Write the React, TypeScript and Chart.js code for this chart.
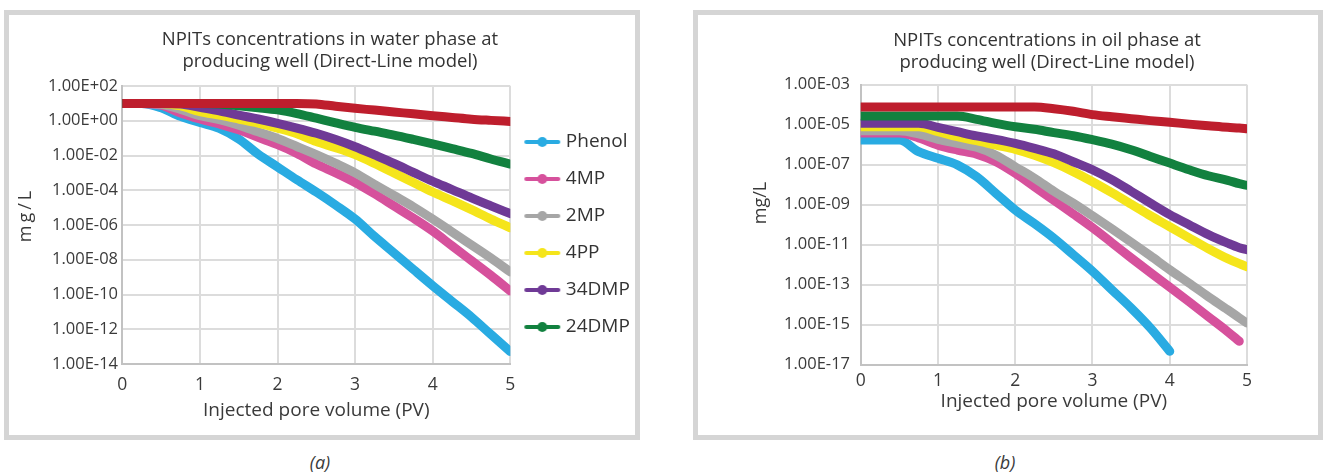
import React, { useEffect, useRef } from 'react';
import { Chart, registerables } from 'chart.js';

Chart.register(...registerables);

const FONT = "'Open Sans', sans-serif";
Chart.defaults.font.family = FONT;

// ---------- data ----------
const seriesNames = ['Phenol', '4MP', '2MP', '4PP', '34DMP', '24DMP', ''];
const seriesColors = ['#29ABE2', '#D6519C', '#A6A6A6', '#F5E51B', '#6F3A96', '#12813F', '#BE1E2D'];

const pvWater = [0, 0.25, 0.5, 0.75, 1, 1.25, 1.5, 1.75, 2, 2.25, 2.5, 2.75, 3, 3.25, 3.5, 3.75, 4, 4.25, 4.5, 4.75, 5];
const phenolWater = [10, 10, 5.6, 1.78, 0.79, 0.36, 0.089, 0.012, 2.2e-3, 4.0e-4, 7.9e-5, 1.4e-5, 2.2e-6, 2.2e-7, 2.5e-8, 2.8e-9, 3.2e-10, 4.0e-11, 5.0e-12, 5.0e-13, 5.2e-14];
const mp4Water = [10, 10, 7.9, 2.8, 1.26, 0.65, 0.3, 0.11, 0.042, 0.0132, 3.2e-3, 1.0e-3, 2.8e-4, 6.3e-5, 1.26e-5, 2.5e-6, 4.5e-7, 6.3e-8, 8.9e-9, 1.26e-9, 1.6e-10];
const mp2Water = [10, 10, 8.9, 4.5, 1.95, 1.15, 0.56, 0.23, 0.095, 0.033, 0.0112, 3.5e-3, 1.0e-3, 2.2e-4, 5.0e-5, 1.12e-5, 2.2e-6, 4.0e-7, 7.1e-8, 1.26e-8, 2.0e-9];
const pp4Water = [10, 10, 10, 7.1, 3.3, 2.1, 1.26, 0.74, 0.38, 0.18, 0.063, 0.028, 0.0112, 3.5e-3, 1.0e-3, 2.8e-4, 7.9e-5, 2.5e-5, 7.6e-6, 2.2e-6, 6.9e-7];
const dmp34Water = [10, 10, 10, 9.3, 5.9, 3.7, 2.1, 1.26, 0.71, 0.38, 0.19, 0.083, 0.032, 0.0107, 3.5e-3, 1.07e-3, 3.3e-4, 1.1e-4, 3.6e-5, 1.26e-5, 4.5e-6];
const dmp24Water = [10, 10, 10, 10, 10, 9.3, 7.2, 5.6, 4.2, 2.6, 1.41, 0.76, 0.42, 0.25, 0.15, 0.085, 0.047, 0.025, 0.0132, 0.0063, 0.0032];
const series7Water = [10, 10, 10, 10, 10, 10, 10, 10, 10, 10, 9.3, 6.8, 5.2, 4.1, 3.2, 2.5, 1.95, 1.55, 1.23, 1.05, 0.91];

const pvOil = [0, 0.25, 0.5, 0.75, 1, 1.25, 1.5, 1.75, 2, 2.25, 2.5, 2.75, 3, 3.25, 3.5, 3.75, 4, 4.25, 4.5, 4.75, 4.9, 5];
const phenolOil = [1.7e-6, 1.7e-6, 1.7e-6, 4.5e-7, 2.1e-7, 9.8e-8, 2.5e-8, 3.7e-9, 5.4e-10, 1.12e-10, 2.1e-11, 3.2e-12, 4.7e-13, 5.6e-14, 6.8e-15, 6.8e-16, 4.7e-17, null, null, null, null, null];
const mp4Oil = [3.8e-6, 3.8e-6, 3.8e-6, 2.2e-6, 9.5e-7, 5.4e-7, 3.4e-7, 1.41e-7, 3.7e-8, 7.9e-9, 1.66e-9, 3.5e-10, 7.1e-11, 1.26e-11, 2.2e-12, 4.0e-13, 7.6e-14, 1.41e-14, 2.5e-15, 4.5e-16, 1.48e-16, null];
const mp2Oil = [5.0e-6, 5.0e-6, 5.0e-6, 3.5e-6, 1.86e-6, 1.17e-6, 7.4e-7, 3.0e-7, 7.9e-8, 2.1e-8, 4.7e-9, 1.2e-9, 2.8e-10, 6.3e-11, 1.35e-11, 2.8e-12, 5.6e-13, 1.2e-13, 2.5e-14, 5.6e-15, 2.2e-15, 1.2e-15];
const pp4Oil = [7.9e-6, 7.9e-6, 7.9e-6, 7.9e-6, 4.5e-6, 2.5e-6, 1.58e-6, 9.5e-7, 5.9e-7, 3.0e-7, 1.26e-7, 4.5e-8, 1.41e-8, 4.0e-9, 1.07e-9, 2.8e-10, 7.9e-11, 2.2e-11, 6.3e-12, 2.0e-12, 1.12e-12, 7.9e-13];
const dmp34Oil = [1.17e-5, 1.17e-5, 1.17e-5, 1.17e-5, 7.4e-6, 4.5e-6, 2.75e-6, 1.86e-6, 1.17e-6, 6.6e-7, 3.5e-7, 1.41e-7, 5.6e-8, 1.78e-8, 4.7e-9, 1.2e-9, 3.2e-10, 1.0e-10, 3.2e-11, 1.2e-11, 7.1e-12, 5.6e-12];
const dmp24Oil = [2.7e-5, 2.7e-5, 2.7e-5, 2.7e-5, 2.7e-5, 2.7e-5, 1.86e-5, 1.17e-5, 7.9e-6, 5.9e-6, 4.0e-6, 2.8e-6, 1.78e-6, 1.07e-6, 5.6e-7, 2.6e-7, 1.2e-7, 5.6e-8, 2.8e-8, 1.66e-8, 1.12e-8, 9.3e-9];
const series7Oil = [7.6e-5, 7.6e-5, 7.6e-5, 7.6e-5, 7.6e-5, 7.6e-5, 7.6e-5, 7.6e-5, 7.6e-5, 7.6e-5, 6.3e-5, 4.7e-5, 3.2e-5, 2.5e-5, 2.0e-5, 1.6e-5, 1.32e-5, 1.07e-5, 8.9e-6, 7.4e-6, 6.8e-6, 6.3e-6];

const waterTickValues = [1e-14, 1e-12, 1e-10, 1e-8, 1e-6, 1e-4, 1e-2, 1e0, 1e2];
const waterTickLabels = ['1.00E-14', '1.00E-12', '1.00E-10', '1.00E-08', '1.00E-06', '1.00E-04', '1.00E-02', '1.00E+00', '1.00E+02'];
const oilTickValues = [1e-17, 1e-15, 1e-13, 1e-11, 1e-9, 1e-7, 1e-5, 1e-3];
const oilTickLabels = ['1.00E-17', '1.00E-15', '1.00E-13', '1.00E-11', '1.00E-09', '1.00E-07', '1.00E-05', '1.00E-03'];
const pvTickValues = [0, 1, 2, 3, 4, 5];
const pvTickLabels = ['0', '1', '2', '3', '4', '5'];

const waterTitle = ['NPITs concentrations in water phase at', 'producing well (Direct-Line model)'];
const oilTitle = ['NPITs concentrations in oil phase at', 'producing well (Direct-Line model)'];
const xTitle = 'Injected pore volume (PV)';
const yTitle = 'mg/L';

// ---------- helpers ----------
const TEXT = '#3a3a3a';
const GRID = '#dcdcdc';
const AXIS = '#c2c2c2';

function legendIcon(color: string) {
  const c = document.createElement('canvas');
  c.width = 40;
  c.height = 12;
  const ctx = c.getContext('2d')!;
  ctx.strokeStyle = color;
  ctx.lineWidth = 4;
  ctx.lineCap = 'round';
  ctx.beginPath();
  ctx.moveTo(4, 6);
  ctx.lineTo(36, 6);
  ctx.stroke();
  ctx.fillStyle = color;
  ctx.beginPath();
  ctx.arc(20, 6, 5, 0, Math.PI * 2);
  ctx.fill();
  return c;
}

const yTitlePlugin = {
  id: 'yTitle',
  afterDraw(chart: any, _args: any, opts: any) {
    const { ctx, chartArea } = chart;
    ctx.save();
    ctx.translate(chartArea.left + opts.dx, (chartArea.top + chartArea.bottom) / 2 + opts.dy);
    ctx.rotate(-Math.PI / 2);
    ctx.font = `${opts.size}px ${FONT}`;
    try { (ctx as any).letterSpacing = `${opts.spacing}px`; } catch (e) { /* ignore */ }
    ctx.fillStyle = opts.color;
    ctx.textAlign = 'center';
    ctx.textBaseline = 'middle';
    ctx.fillText(opts.text, 0, 0);
    ctx.restore();
  },
};

function buildDatasets(xs: number[], ys: (number | null)[][]) {
  return ys.map((arr, i) => ({
    label: seriesNames[i],
    data: xs.map((x, j) => ({ x, y: arr[j] })),
    borderColor: seriesColors[i],
    backgroundColor: seriesColors[i],
    borderWidth: 9,
    pointRadius: 0,
    borderCapStyle: 'round',
    borderJoinStyle: 'round',
    cubicInterpolationMode: 'monotone',
    spanGaps: false,
    order: ys.length - 1 - i,
  }));
}

function axisX(height: number, tickPad: number, titlePadBottom: number) {
  return {
    type: 'linear',
    min: 0,
    max: 5,
    afterBuildTicks: (s: any) => { s.ticks = pvTickValues.map((value) => ({ value })); },
    afterFit: (s: any) => { s.height = height; },
    ticks: {
      autoSkip: false,
      maxRotation: 0,
      padding: tickPad,
      color: TEXT,
      font: { size: 17.5 },
      callback: (v: number) => pvTickLabels[pvTickValues.indexOf(v)],
    },
    grid: { color: GRID, lineWidth: 2, drawTicks: false },
    border: { color: AXIS, width: 2 },
    title: { display: true, text: xTitle, color: TEXT, font: { size: 19 }, padding: { top: 0, bottom: titlePadBottom } },
  };
}

function axisY(min: number, max: number, tv: number[], tl: string[], width: number, tickPad: number) {
  return {
    type: 'logarithmic',
    min,
    max,
    afterBuildTicks: (s: any) => { s.ticks = tv.map((value) => ({ value })); },
    afterFit: (s: any) => { s.width = width; },
    ticks: {
      autoSkip: false,
      padding: tickPad,
      color: TEXT,
      font: { size: 16.5 },
      callback: (v: number) => tl[tv.indexOf(v)],
    },
    grid: { color: GRID, lineWidth: 2, drawTicks: false },
    border: { color: AXIS, width: 2 },
  };
}

function waterConfig(): any {
  return {
    type: 'line',
    data: {
      datasets: buildDatasets(pvWater, [phenolWater, mp4Water, mp2Water, pp4Water, dmp34Water, dmp24Water, series7Water]),
    },
    plugins: [yTitlePlugin],
    options: {
      responsive: false,
      animation: false,
      devicePixelRatio: 1,
      events: [],
      layout: { padding: { left: 15.7, right: 4.7, top: 0, bottom: 0 } },
      scales: {
        x: axisX(71, 11, 13.1),
        y: axisY(1e-14, 1e2, waterTickValues, waterTickLabels, 97.6, 4.3),
      },
      plugins: {
        tooltip: { enabled: false },
        title: {
          display: true,
          text: waterTitle,
          color: '#333',
          font: { size: 18.5, weight: 'normal', lineHeight: '21.5px' },
          padding: { top: 14.25, bottom: 13.75 },
        },
        legend: {
          display: true,
          position: 'right',
          align: 'start',
          fullSize: false,
          maxWidth: 125,
          title: { display: true, text: ' ', font: { size: 10 }, padding: { top: 16.5, bottom: 0 } },
          labels: {
            usePointStyle: true,
            pointStyleWidth: 28,
            boxHeight: 19,
            padding: 18,
            color: '#333',
            font: { size: 19 },
            generateLabels: (chart: any) =>
              chart.data.datasets
                .map((ds: any, i: number) => ({
                  text: ds.label,
                  fillStyle: ds.borderColor,
                  strokeStyle: ds.borderColor,
                  lineWidth: 0,
                  pointStyle: legendIcon(ds.borderColor),
                  hidden: false,
                  datasetIndex: i,
                  fontColor: '#333',
                }))
                .filter((it: any) => it.text !== ''),
          },
        },
        yTitle: { text: yTitle, size: 18, spacing: 3, color: TEXT, dx: -96.3, dy: -10 },
      },
    },
  };
}

function oilConfig(): any {
  return {
    type: 'line',
    data: {
      datasets: buildDatasets(pvOil, [phenolOil, mp4Oil, mp2Oil, pp4Oil, dmp34Oil, dmp24Oil, series7Oil]),
    },
    plugins: [yTitlePlugin],
    options: {
      responsive: false,
      animation: false,
      devicePixelRatio: 1,
      events: [],
      layout: { padding: { left: 74, right: 0, top: 0, bottom: 0 } },
      scales: {
        x: axisX(70.3, 5.6, 21.9),
        y: axisY(1e-17, 1e-3, oilTickValues, oilTickLabels, 89.7, 10.7),
        spacer: {
          type: 'linear',
          position: 'right',
          display: true,
          afterFit: (s: any) => { s.width = 76; },
          grid: { display: false, drawTicks: false },
          ticks: { display: false },
          border: { display: false },
        },
      },
      plugins: {
        tooltip: { enabled: false },
        legend: { display: false },
        title: {
          display: true,
          text: oilTitle,
          color: '#333',
          font: { size: 18.5, weight: 'normal', lineHeight: '21.3px' },
          padding: { top: 15.35, bottom: 11.75 },
        },
        yTitle: { text: yTitle, size: 18, spacing: 0, color: TEXT, dx: -99.7, dy: -21.7 },
      },
    },
  };
}

function ChartCanvas({ make, left, top, width, height }: any) {
  const ref = useRef<HTMLCanvasElement>(null);
  useEffect(() => {
    const chart = new Chart(ref.current as HTMLCanvasElement, make());
    return () => chart.destroy();
  }, []);
  return (
    <canvas
      ref={ref}
      width={width}
      height={height}
      style={{ position: 'absolute', left, top, width, height, display: 'block' }}
    />
  );
}

const boxStyle = (left: number, width: number): React.CSSProperties => ({
  position: 'absolute',
  left,
  top: 10,
  width,
  height: 430,
  border: '5px solid #d5d5d5',
  boxSizing: 'border-box',
  background: '#fff',
});

const captionStyle = (cx: number): React.CSSProperties => ({
  position: 'absolute',
  left: cx,
  top: 462,
  transform: 'translate(-50%, -50%)',
  fontFamily: FONT,
  fontStyle: 'italic',
  fontSize: 18,
  lineHeight: '18px',
  color: '#3a3a3a',
  whiteSpace: 'nowrap',
});

export default function App() {
  return (
    <div style={{ position: 'absolute', left: 0, top: 0, width: 1326, height: 474, background: '#fff', overflow: 'hidden' }}>
      <div style={boxStyle(4, 636)} />
      <div style={boxStyle(693, 630)} />
      <ChartCanvas make={waterConfig} left={9} top={15} width={631} height={420} />
      <ChartCanvas make={oilConfig} left={697} top={15} width={626} height={420} />
      <div style={captionStyle(320)}>(a)</div>
      <div style={captionStyle(1005)}>(b)</div>
    </div>
  );
}
